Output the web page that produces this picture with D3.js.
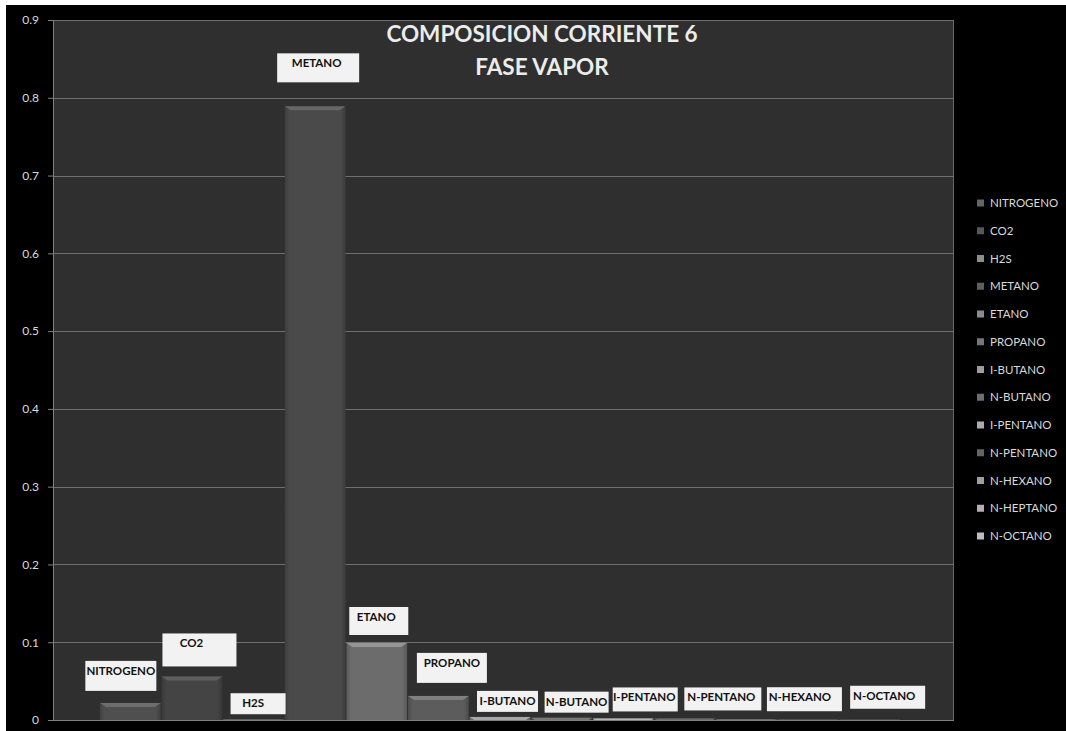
<!DOCTYPE html>
<html><head><meta charset="utf-8">
<script src="https://cdn.jsdelivr.net/npm/d3@7"></script>
<style>
html,body{margin:0;padding:0;background:#fff;}
svg{display:block;}
</style></head>
<body>
<svg id="chart" width="1066" height="731"></svg>
<script>
// ---- data ----
const series = ["NITROGENO","CO2","H2S","METANO","ETANO","PROPANO","I-BUTANO","N-BUTANO","I-PENTANO","N-PENTANO","N-HEXANO","N-HEPTANO","N-OCTANO"];
const values = [0.022, 0.056, 0.001, 0.789, 0.099, 0.031, 0.004, 0.003, 0.002, 0.002, 0.001, 0.0005, 0.0003];
const yTicks = [0, 0.1, 0.2, 0.3, 0.4, 0.5, 0.6, 0.7, 0.8, 0.9];
const titleLines = ["COMPOSICION CORRIENTE 6", "FASE VAPOR"];
const labelShown = [true,true,true,true,true,true,true,true,true,true,true,false,true];

// ---- styles / layout ----
const barColors = ["#4f4f4f","#444444","#6e6e6e","#4a4a4a","#6c6c6c","#5c5c5c","#7a7a7a","#565656","#858585","#4e4e4e","#7c7c7c","#8a8a8a","#939393"];
const labelDx   = [-9.5, 7.5, 4.5, 3, 2, 13.5, 7.5, 15, 22, 38, 58, 0, 18];
const labelLift = [12, 10, 5, 24, 8, 13, 5, 5, 7, 8, 8, 8, 11];
const boxW      = [71, 74, 55, 82, 59, 70, 61, 64, 65, 77, 75, 70, 75];
const boxH      = [30, 33, 21, 29, 28, 30, 21, 21, 24, 23, 24, 23, 23];
const textDx    = [0, -8, -5, -1.5, -2.5, 0, 0, 0, -1, -1.5, -4.5, 0, -3.5];

const W = 1066, H = 731;
const plot = {l: 53, t: 20, r: 954, b: 720};
const svg = d3.select("#chart");

svg.append("rect").attr("x",0).attr("y",0).attr("width",W).attr("height",H).attr("fill","#fff");
svg.append("rect").attr("x",6).attr("y",5).attr("width",W-6).attr("height",H-5).attr("fill","#000");

svg.append("rect").attr("x",plot.l).attr("y",plot.t).attr("width",plot.r-plot.l).attr("height",plot.b-plot.t)
  .attr("fill","#2f2f2f");

const y = d3.scaleLinear().domain([0, 0.9]).range([plot.b, plot.t]);
const x = d3.scaleBand().domain(series).range([plot.l + 47, plot.r - 54]).paddingInner(0.015);

svg.append("g").selectAll("line").data(yTicks.filter(d => d > 0)).join("line")
  .attr("x1", plot.l).attr("x2", plot.r)
  .attr("y1", d => Math.round(y(d)) + 0.5).attr("y2", d => Math.round(y(d)) + 0.5)
  .attr("stroke", "#6f6f6f").attr("stroke-width", 1);

svg.append("line").attr("x1",plot.r-0.5).attr("x2",plot.r-0.5).attr("y1",plot.t).attr("y2",plot.b)
  .attr("stroke","#6a6a6a");

const defs = svg.append("defs");
series.forEach((s,i) => {
  const c = d3.color(barColors[i]);
  const g = defs.append("linearGradient").attr("id","g"+i).attr("x1","0").attr("x2","1").attr("y1","0").attr("y2","0");
  g.append("stop").attr("offset","0%").attr("stop-color", c.darker(0.5));
  g.append("stop").attr("offset","8%").attr("stop-color", c);
  g.append("stop").attr("offset","92%").attr("stop-color", c);
  g.append("stop").attr("offset","100%").attr("stop-color", c.darker(0.6));
});

const bars = svg.append("g");
series.forEach((s,i) => {
  const x0 = x(s), bw = x.bandwidth();
  const yt = y(values[i]), hgt = plot.b - yt;
  bars.append("rect").attr("x", x0).attr("y", yt).attr("width", bw).attr("height", hgt)
    .attr("fill", `url(#g${i})`);
  const bev = Math.min(4, hgt);
  if (bev > 0.8) {
    const c = d3.color(barColors[i]);
    bars.append("path")
      .attr("d", `M${x0},${yt} L${x0+bw},${yt} L${x0+bw-bev*1.5},${yt+bev} L${x0+bev*1.5},${yt+bev} Z`)
      .attr("fill", c.brighter(0.9));
  }
});

const axisG = svg.append("g").attr("transform", `translate(${plot.l},0)`)
  .call(d3.axisLeft(y).tickValues(yTicks).tickFormat(d => d === 0 ? "0" : d3.format(".1f")(d)).tickSize(5).tickPadding(9));
axisG.select(".domain").attr("stroke", "#808080");
axisG.selectAll(".tick line").attr("stroke", "#808080");
axisG.selectAll(".tick text").attr("fill", "#d9d9d9").attr("font-family", "Lato, 'Open Sans', sans-serif").attr("font-size", 12);

svg.append("line").attr("x1",plot.l).attr("x2",plot.r).attr("y1",plot.b+0.5).attr("y2",plot.b+0.5).attr("stroke","#808080");

svg.append("g").selectAll("text").data(titleLines).join("text")
  .attr("x", 542).attr("y", (d,i) => 42 + i*33)
  .attr("text-anchor","middle").attr("fill","#ececec")
  .attr("font-family","Lato, 'Open Sans', sans-serif").attr("font-weight","bold").attr("font-size",22.5)
  .text(d => d);

const lab = svg.append("g");
series.forEach((s,i) => {
  if (!labelShown[i]) return;
  const cx = x(s) + x.bandwidth()/2 + labelDx[i];
  const bottom = y(values[i]) - labelLift[i];
  const top = bottom - boxH[i];
  lab.append("rect").attr("x", cx - boxW[i]/2).attr("y", top).attr("width", boxW[i]).attr("height", boxH[i])
    .attr("fill", "#f2f2f2");
  lab.append("text").attr("x", cx + textDx[i]).attr("y", top + 14)
    .attr("text-anchor","middle").attr("fill","#111")
    .attr("font-family","Lato, 'Open Sans', sans-serif").attr("font-weight","bold").attr("font-size",11.5)
    .text(s);
});

const leg = svg.append("g");
series.forEach((s,i) => {
  const cy = 203 + i*27.75;
  const c = d3.color(barColors[i]);
  leg.append("rect").attr("x", 977).attr("y", cy - 3.5).attr("width", 7).attr("height", 7)
    .attr("fill", c.brighter(0.7));
  leg.append("text").attr("x", 990).attr("y", cy + 4)
    .attr("fill","#d9d9d9").attr("font-family","Lato, 'Open Sans', sans-serif").attr("font-size",11.5)
    .text(s);
});
</script>
</body></html>
